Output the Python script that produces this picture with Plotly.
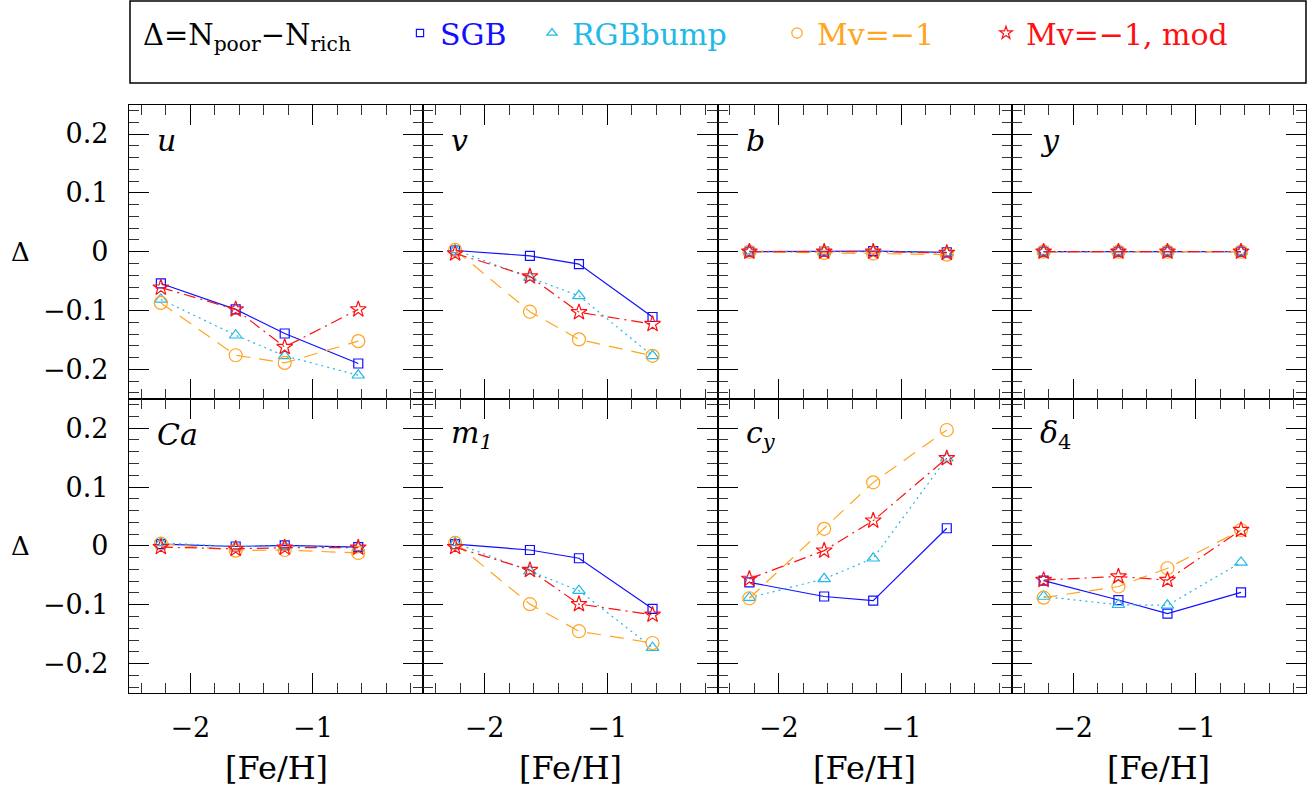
import plotly.graph_objects as go

W, H = 1316, 790

feh = [-2.24, -1.63, -1.23, -0.63]

panels = ["u", "v", "b", "y", "Ca", "m1", "cy", "d4"]
panel_labels = ["<i>u</i>", "<i>v</i>", "<i>b</i>", "<i>y</i>",
                "<i>Ca</i>", "<i>m</i><sub><i>1</i></sub>", "<i>c</i><sub><i>y</i></sub>", "<i>δ</i><sub>4</sub>"]

sgb = {
    "u": [-0.054, -0.098, -0.139, -0.190],
    "v": [0.002, -0.007, -0.021, -0.111],
    "b": [0.0, 0.0, 0.001, -0.001],
    "y": [0.0, 0.0, 0.0, 0.0],
    "Ca": [0.003, -0.001, 0.001, -0.002],
    "m1": [0.003, -0.007, -0.021, -0.107],
    "cy": [-0.062, -0.086, -0.093, 0.030],
    "d4": [-0.059, -0.092, -0.115, -0.079],
}
rgbbump = {
    "u": [-0.081, -0.142, -0.177, -0.210],
    "v": [0.003, -0.044, -0.075, -0.177],
    "b": [0.001, 0.0, 0.001, -0.002],
    "y": [0.0, 0.0, 0.0, 0.0],
    "Ca": [0.005, -0.001, 0.0, -0.003],
    "m1": [0.005, -0.043, -0.076, -0.173],
    "cy": [-0.088, -0.056, -0.021, 0.149],
    "d4": [-0.086, -0.100, -0.101, -0.028],
}
mv1 = {
    "u": [-0.087, -0.176, -0.189, -0.152],
    "v": [0.003, -0.102, -0.149, -0.177],
    "b": [0.0, -0.002, -0.003, -0.005],
    "y": [0.0, 0.0, 0.0, 0.0],
    "Ca": [0.004, -0.008, -0.007, -0.012],
    "m1": [0.005, -0.099, -0.145, -0.165],
    "cy": [-0.089, 0.029, 0.108, 0.197],
    "d4": [-0.088, -0.069, -0.038, 0.027],
}
mv1mod = {
    "u": [-0.061, -0.098, -0.162, -0.098],
    "v": [-0.003, -0.042, -0.103, -0.123],
    "b": [0.0, 0.0, 0.0, -0.002],
    "y": [0.0, 0.0, 0.0, 0.0],
    "Ca": [-0.002, -0.005, -0.003, -0.003],
    "m1": [-0.002, -0.041, -0.099, -0.117],
    "cy": [-0.056, -0.008, 0.043, 0.149],
    "d4": [-0.058, -0.052, -0.058, 0.027],
}

series = [
    ("SGB", sgb, "#1010FF", "solid", "square-open", 9),
    ("RGBbump", rgbbump, "#22B8E8", "2px,4px", "triangle-up-open", 11),
    ("Mv=−1", mv1, "#FFA520", "14px,9px", "circle-open", 13),
    ("Mv=−1, mod", mv1mod, "#FF1010", "12px,5px,2px,5px", "star-open", 12),
]

FONT = "DejaVu Serif"

# pixel layout
left, right = 129.0, 1306.0
pw = (right - left) / 4
top, mid, bot = 104.6, 398.8, 693.0

def px_x(p):
    return p / W

def px_y(p):
    return 1 - p / H

fig = go.Figure()

for i, key in enumerate(panels):
    r, c = divmod(i, 4)
    n = i + 1
    xa = "x" if n == 1 else f"x{n}"
    ya = "y" if n == 1 else f"y{n}"
    for name, data, color, dash, sym, size in series:
        fig.add_trace(go.Scatter(
            x=feh, y=data[key], mode="lines+markers",
            line=dict(color=color, width=1.2, dash=dash),
            marker=dict(symbol=sym, size=size, color=color, line=dict(width=1.2, color=color)),
            xaxis=xa, yaxis=ya, showlegend=False, cliponaxis=False,
        ))
    x0 = left + c * pw
    x1 = x0 + pw
    if r == 0:
        y0p, y1p = top, mid
    else:
        y0p, y1p = mid, bot
    common = dict(showline=True, linecolor="black", linewidth=1.2, mirror="allticks",
                  ticks="inside", tickcolor="black", tickwidth=1.2, showgrid=False,
                  zeroline=False, tickfont=dict(family=FONT, size=27, color="black"))
    fig.layout[f"xaxis{'' if n == 1 else n}"] = dict(
        domain=[px_x(x0), px_x(x1)], anchor=ya, range=[-2.5, -0.1],
        tick0=-2, dtick=1, ticklen=20,
        minor=dict(dtick=0.2, tick0=-2, ticklen=10, ticks="inside", tickcolor="#333", tickwidth=1.2),
        showticklabels=(r == 1), ticklabelstandoff=10, **common)
    fig.layout[f"yaxis{'' if n == 1 else n}"] = dict(
        domain=[px_y(y1p), px_y(y0p)], anchor=xa, range=[-0.25, 0.25],
        tick0=0, dtick=0.1, ticklen=20,
        minor=dict(dtick=0.02, tick0=0, ticklen=10, ticks="inside", tickcolor="#333", tickwidth=1.2),
        showticklabels=(c == 0), ticklabelstandoff=14, **common)
    # panel label
    fig.add_annotation(text=panel_labels[i], x=px_x(x0 + 26), y=px_y(y0p + 36),
                       xref="paper", yref="paper", xanchor="left", yanchor="middle",
                       showarrow=False, font=dict(family=FONT, size=30, color="black"))
    if r == 1:
        fig.add_annotation(text="[Fe/H]", x=px_x(x0 + 147), y=px_y(768),
                           xref="paper", yref="paper", xanchor="center", yanchor="middle",
                           showarrow=False, font=dict(family=FONT, size=32, color="black"))
    if c == 0:
        fig.add_annotation(text="Δ", x=px_x(20), y=px_y((y0p + y1p) / 2),
                           xref="paper", yref="paper", xanchor="center", yanchor="middle",
                           showarrow=False, font=dict(family=FONT, size=26, color="black"))

# legend box
fig.add_shape(type="rect", xref="paper", yref="paper",
              x0=px_x(130), x1=px_x(1306), y0=px_y(83), y1=px_y(1),
              line=dict(color="black", width=1.5))
fig.add_annotation(text="Δ=N<sub>poor</sub>−N<sub>rich</sub>", x=px_x(141), y=px_y(37),
                   xref="paper", yref="paper", xanchor="left", yanchor="middle",
                   showarrow=False, font=dict(family=FONT, size=29, color="black"))

legend_x = [400, 532, 777, 986]
legend_names = ["legend", "legend2", "legend3", "legend4"]
for (name, data, color, dash, sym, size), lx, lg in zip(series, legend_x, legend_names):
    fig.add_trace(go.Scatter(
        x=[None], y=[None], mode="markers", name=name, legend=lg,
        marker=dict(symbol=sym, size=size * 0.8, color=color, line=dict(width=1.2, color=color)),
        xaxis="x", yaxis="y", showlegend=True,
    ))
    fig.layout[lg] = dict(x=px_x(lx), y=px_y(33), xanchor="left", yanchor="middle",
                          orientation="h", bgcolor="rgba(0,0,0,0)", borderwidth=0,
                          font=dict(family=FONT, size=30, color=color),
                          itemsizing="trace", itemwidth=30)

fig.update_layout(width=W, height=H, margin=dict(l=0, r=0, t=0, b=0),
                  paper_bgcolor="white", plot_bgcolor="white")

fig.write_html("out.html")
